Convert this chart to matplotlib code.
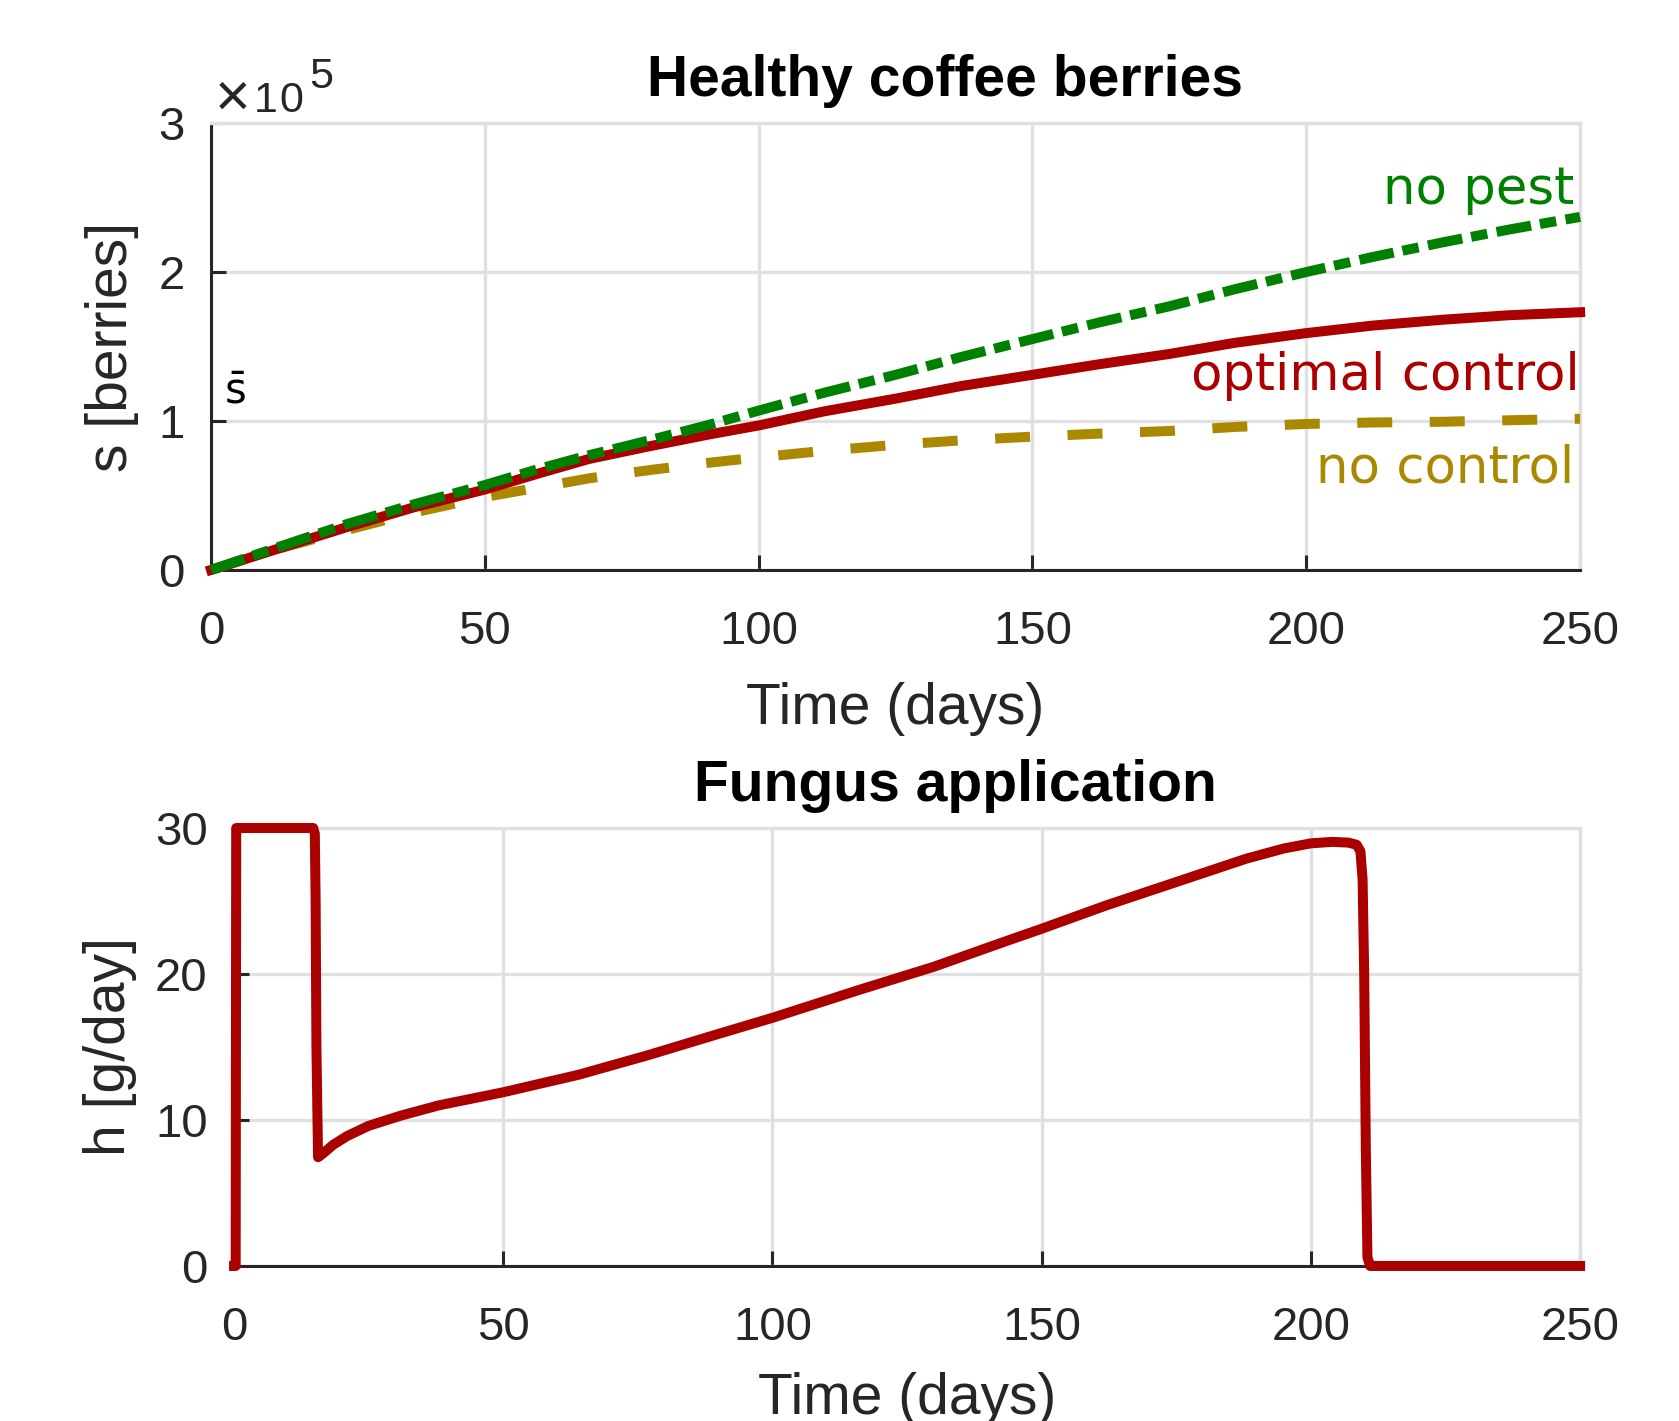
import numpy as np
import matplotlib
matplotlib.use("Agg")
import matplotlib.pyplot as plt

# --- data ---
# top panel: healthy berries (x1e5)
t_top = [0, 12, 25, 37, 50, 60, 69, 80, 91, 100, 112, 125, 137, 150, 162, 175,
         187, 200, 212, 225, 237, 250]
s_optimal = [0, 0.14, 0.29, 0.42, 0.54, 0.65, 0.745, 0.83, 0.91, 0.97, 1.065, 1.15,
             1.235, 1.31, 1.38, 1.45, 1.525, 1.59, 1.64, 1.68, 1.71, 1.73]
s_nopest = [0, 0.15, 0.31, 0.44, 0.57, 0.68, 0.77, 0.87, 0.975, 1.07, 1.19, 1.31,
            1.43, 1.55, 1.66, 1.77, 1.885, 2.0, 2.1, 2.2, 2.285, 2.37]
s_nocontrol = [0, 0.14, 0.27, 0.385, 0.49, 0.555, 0.615, 0.67, 0.72, 0.756, 0.8, 0.84,
               0.87, 0.895, 0.915, 0.933, 0.96, 0.98, 0.99, 0.995, 1.005, 1.015]

# bottom panel: fungus application h [g/day]
t_h = [0, 0.3, 0.4, 14.7, 15.0, 15.15, 15.3, 15.6, 16.5, 18.4, 21, 25, 31, 38, 50,
       64, 77, 90, 100, 116, 130, 143, 150, 162, 175, 188, 195, 200, 204, 207,
       208.5, 209.2, 209.6, 209.9, 210.2, 210.5, 211, 250]
h_opt = [0, 0, 30, 30, 29.6, 25, 15, 7.45, 7.7, 8.3, 8.9, 9.6, 10.3, 11.0, 11.9,
         13.1, 14.45, 15.9, 17.0, 18.9, 20.5, 22.2, 23.1, 24.7, 26.3, 27.9, 28.6,
         28.95, 29.05, 29.0, 28.85, 28.4, 26.5, 20, 8, 0.6, 0, 0]

xticks = [0, 50, 100, 150, 200, 250]

RED = "#aa0000"
GREEN = "#008000"
GOLD = "#aa8800"
DARK = "#262626"
GRID = "#e0e0e0"

plt.rcParams["font.family"] = ["Liberation Sans", "DejaVu Sans"]
plt.rcParams["mathtext.fontset"] = "dejavusans"

fig = plt.figure(figsize=(16.79, 14.21), dpi=100)
ax1 = fig.add_axes([0.1257, 0.5989, 0.8154, 0.3145])
ax2 = fig.add_axes([0.1394, 0.1091, 0.8017, 0.3082])


def style_axes(ax):
    ax.grid(True, color=GRID, linewidth=2.4)
    ax.set_axisbelow(True)
    for side in ("left", "bottom"):
        ax.spines[side].set_color(DARK)
        ax.spines[side].set_linewidth(2.2)
    for side in ("top", "right"):
        ax.spines[side].set_color(GRID)
        ax.spines[side].set_linewidth(2.4)
    ax.tick_params(direction="in", length=11, width=2.2, color=DARK,
                   labelcolor=DARK, labelsize=34, top=False, right=False)
    ax.tick_params(axis="x", pad=29)
    ax.tick_params(axis="y", pad=19)
    ax.set_xticks(xticks)
    ax.set_xlim(0, 250)


# top panel
lw = 7.2
s_scale = 1e5
ax1.plot(t_top, np.array(s_nocontrol) * s_scale, color=GOLD, lw=lw,
         linestyle=(0, (3.5, 3.75)), clip_on=False, zorder=3)
ax1.plot(t_top, np.array(s_optimal) * s_scale, color=RED, lw=lw, clip_on=False, zorder=3)
ax1.plot(t_top, np.array(s_nopest) * s_scale, color=GREEN, lw=lw,
         linestyle=(0, (3.5, 0.9, 1.65, 0.95)), clip_on=False, zorder=3)
style_axes(ax1)
ax1.set_ylim(0, 3e5)
ax1.set_yticks([0, 1e5, 2e5, 3e5])
ax1.set_yticklabels(["0", "1", "2", "3"])
ax1.set_title("Healthy coffee berries", fontsize=41, fontweight="bold", x=0.536, pad=19.5)
ax1.set_xlabel("Time (days)", fontsize=41, color=DARK, labelpad=20)
ax1.set_ylabel("s [berries]", fontsize=41, color=DARK, labelpad=14)

# exponent label, drawn piece by piece to keep the wide spacing
ax1.text(0.003, 1.017, "\u00d7", transform=ax1.transAxes, fontsize=44,
         color=DARK, va="baseline", ha="left")
for xf, yf, txt in [(0.031, 1.0246, "1"), (0.050, 1.0246, "0"), (0.072, 1.078, "5")]:
    ax1.text(xf, yf, txt, transform=ax1.transAxes, fontsize=31,
             color=DARK, va="baseline", ha="left")
ax1.text(2.4, 1.12e5, r"$\bar{\mathrm{s}}$", fontsize=30, color="black",
         va="baseline", ha="left")

ax1.text(249, 2.46e5, "no pest", color=GREEN, fontsize=37, family="DejaVu Sans",
         ha="right", va="baseline")
ax1.text(250, 1.21e5, "optimal control", color=RED, fontsize=37, family="DejaVu Sans",
         ha="right", va="baseline")
ax1.text(249, 0.586e5, "no control", color=GOLD, fontsize=37, family="DejaVu Sans",
         ha="right", va="baseline")

# bottom panel
ax2.plot(t_h, h_opt, color=RED, lw=lw, clip_on=False, zorder=3,
         solid_joinstyle="round")
style_axes(ax2)
ax2.set_ylim(0, 30)
ax2.set_yticks([0, 10, 20, 30])
ax2.set_title("Fungus application", fontsize=41, fontweight="bold", x=0.536, pad=19.5)
ax2.set_xlabel("Time (days)", fontsize=41, color=DARK, labelpad=16)
ax2.set_ylabel("h [g/day]", fontsize=41, color=DARK, labelpad=13)

fig.savefig("out.png", dpi=100)
